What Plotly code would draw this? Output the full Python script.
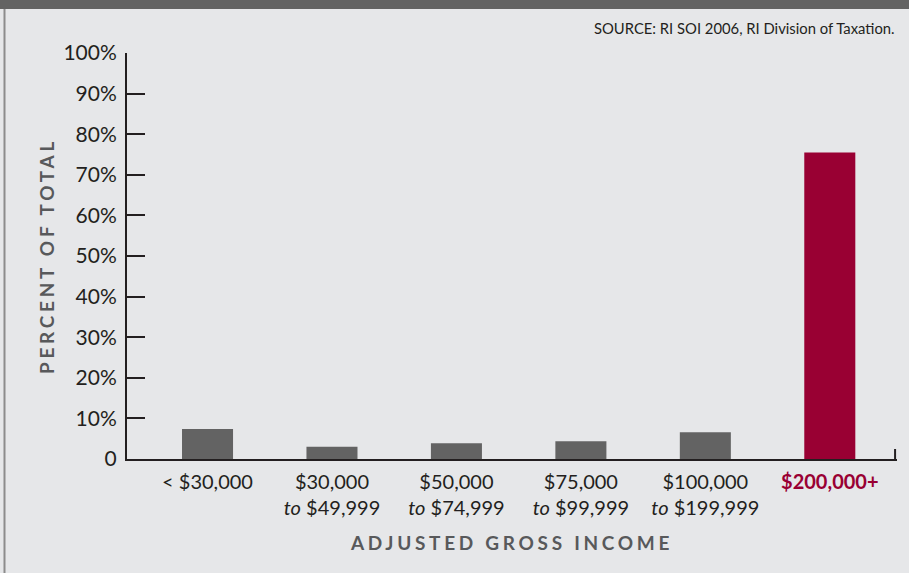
import plotly.graph_objects as go

categories = ["< $30,000", "$30,000 to $49,999", "$50,000 to $74,999",
              "$75,000 to $99,999", "$100,000 to $199,999", "$200,000+"]
tick_labels = ["< $30,000", "$30,000<br><i>to</i> $49,999", "$50,000<br><i>to</i> $74,999",
               "$75,000<br><i>to</i> $99,999", "$100,000<br><i>to</i> $199,999",
               "<b><span style='color:#990033'>$200,000+</span></b>"]
values = [7.4, 3.0, 3.9, 4.4, 6.6, 75.5]
y_tickvals = [0, 10, 20, 30, 40, 50, 60, 70, 80, 90, 100]
y_ticktext = ["0", "10%", "20%", "30%", "40%", "50%", "60%", "70%", "80%", "90%", "100%"]

GRAY = "#636363"
RED = "#990033"
BG = "#E6E7E9"
AX = "#231F20"
FONT = "Lato"

x_idx = list(range(len(categories)))
colors = [GRAY] * 5 + [RED]

fig = go.Figure(go.Bar(x=x_idx, y=values, marker=dict(color=colors, line=dict(width=0)),
                       width=0.41, hoverinfo="skip"))

fig.update_layout(
    width=909, height=573,
    margin=dict(l=127, r=12, t=53, b=114),
    paper_bgcolor=BG, plot_bgcolor=BG,
    showlegend=False,
    font=dict(family=FONT, color="#231F20", size=20),
    xaxis=dict(
        range=[-0.647, 5.54], tickmode="array", tickvals=x_idx, ticktext=tick_labels,
        showgrid=False, zeroline=False, showline=True, linecolor=AX, linewidth=2,
        ticks="", ticklabelstandoff=4, tickfont=dict(family=FONT, size=20, color="#231F20"),
        title=dict(text="<b>ADJUSTED GROSS INCOME</b>", standoff=19,
                   font=dict(family=FONT, size=19, color="#58595B")),
        fixedrange=True,
    ),
    yaxis=dict(
        range=[0, 100], tickmode="array", tickvals=y_tickvals, ticktext=y_ticktext,
        showgrid=False, zeroline=False, showline=True, linecolor=AX, linewidth=2,
        ticks="inside", ticklen=18, tickwidth=2, tickcolor=AX, ticklabelstandoff=4,
        tickfont=dict(family=FONT, size=21, color="#231F20"),
        title=dict(text="<b>PERCENT OF TOTAL</b>", standoff=4,
                   font=dict(family=FONT, size=19, color="#58595B")),
        fixedrange=True,
    ),
    shapes=[
        dict(type="rect", xref="paper", yref="paper", x0=-0.2, x1=1.1, y0=1.0 + 44/406, y1=1.2,
             fillcolor=GRAY, line=dict(width=0), layer="above"),
        dict(type="line", xref="paper", yref="paper", x0=(4.5 - 127) / 770, x1=(4.5 - 127) / 770,
             y0=-0.5, y1=1.0 + 44/406, line=dict(color="#8C8C8C", width=2)),
        dict(type="line", xref="paper", yref="paper", x0=0.9975, x1=0.9975, y0=0, y1=10/406,
             line=dict(color=AX, width=2)),
    ],
    annotations=[
        dict(text="SOURCE: RI SOI 2006, RI Division of Taxation.", xref="paper", yref="paper",
             x=1, y=1 + 25/406, xanchor="right", yanchor="middle", showarrow=False,
             font=dict(family=FONT, size=14.8, color="#231F20")),
    ],
)

post = """
document.body.style.margin = '0';
document.querySelectorAll('.xtitle, .ytitle').forEach(function(e){ e.style.letterSpacing = '3.7px'; });
"""

fig.write_html("out.html", post_script=post, config={"displayModeBar": False})
